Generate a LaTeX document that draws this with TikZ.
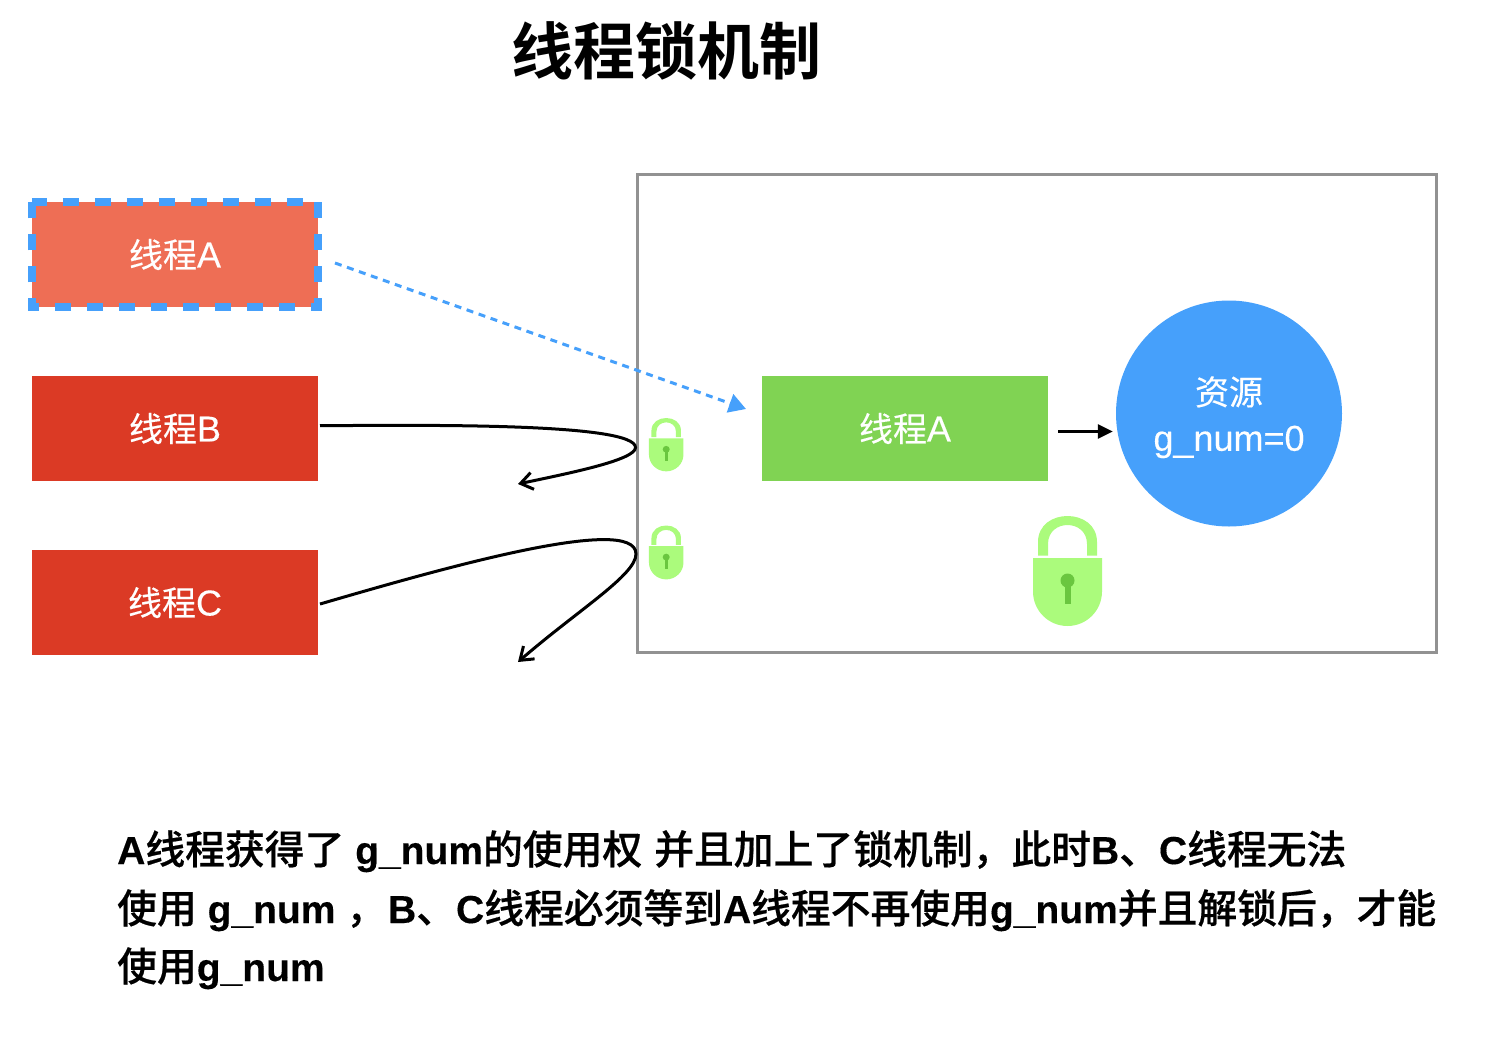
\documentclass[tikz,border=0pt]{standalone}
\usepackage{fontspec}
\usetikzlibrary{arrows.meta}
\setmainfont{Liberation Sans}
\newfontfamily\zhfont[FakeBold=0.3]{Noto Sans CJK SC}
\newfontfamily\zhbold{Noto Sans CJK SC Bold}
\newfontfamily\zhmed[FakeBold=0.5]{Noto Sans CJK SC Medium}
\newfontfamily\latbold[FakeBold=0.25]{Liberation Sans Bold}
\newfontfamily\latreg[FakeBold=0.2]{Liberation Sans}
\newcommand{\zh}[1]{{\fontsize{34}{40}\selectfont\zhfont #1}}
\newcommand{\zb}[1]{{\fontsize{39.8}{46}\selectfont\zhmed #1}}
\newcommand{\zt}[1]{{\zhbold #1}}
\definecolor{redbox}{HTML}{DB3A25}
\definecolor{redsoft}{HTML}{EE6E55}
\definecolor{greenbox}{HTML}{80D353}
\definecolor{bluemain}{HTML}{46A0FB}
\definecolor{framegray}{HTML}{929292}
\definecolor{lockbody}{HTML}{ABFB7C}
\definecolor{lockhole}{HTML}{6AC63F}
\tikzset{
  tbox/.style={minimum width=286pt,minimum height=105pt,inner sep=0pt,text=white,font=\fontsize{36}{40}\selectfont\latreg},
  bline/.style={anchor=base west,inner sep=0pt,font=\fontsize{39}{46}\selectfont\latbold},
  curvearrow/.style={line width=3pt,-{Straight Barb[length=12pt,width=17pt,line width=3pt]}},
  lockpic/.pic={
    \fill[lockbody] (-29.5,39.5) -- (-29.5,26) .. controls (-29.5,-8.67) and (29.5,-8.67) .. (29.5,26) -- (29.5,39.5) -- (19.5,39.5) -- (19.5,28) .. controls (19.5,2.67) and (-19.5,2.67) .. (-19.5,28) -- (-19.5,39.5) -- cycle;
    \fill[lockbody] (-34.5,42) -- (34.5,42) -- (34.5,75.5) arc[start angle=0,end angle=180,radius=34.5] -- cycle;
    \fill[lockhole] (0,64.5) circle[radius=7];
    \fill[lockhole] (-3,66) rectangle (3,88);
  }
}
\begin{document}
\begin{tikzpicture}[x=1pt,y=-1pt]
\useasboundingbox (0,0) rectangle (1496,1036);
\node[anchor=base,inner sep=0pt,font=\fontsize{62}{70}\selectfont] (title) at (666.5,74) {\zt{线程锁机制}};
\node[draw=framegray,line width=3pt,minimum width=799pt,minimum height=478pt,inner sep=0pt] (frame) at (1036.7,413.2) {};
\node[tbox,fill=redsoft] (ta) at (175,254.5) {\zh{线程}A};
\draw[bluemain,line width=8pt,dash pattern=on 16pt off 16pt,dash phase=1pt] (ta.north west) -- (ta.north east) -- (ta.south east) -- (ta.south west) -- cycle;
\node[tbox,fill=redbox] (tb) at (175,428.5) {\zh{线程}B};
\node[tbox,fill=redbox] (tc) at (175,602.5) {\zh{线程}C};
\node[tbox,fill=greenbox] (tg) at (905,428.5) {\zh{线程}A};
\node[circle,fill=bluemain,minimum size=226pt,inner sep=0pt,text=white,align=center,font=\fontsize{36}{46}\selectfont\latreg] (res) at (1229,413.5) {\rule{0pt}{36pt}\zh{资源}\\g\_num=0};
\coordinate (as) at (335,263);
\coordinate (ae) at (746,409);
\draw[bluemain,line width=3pt,dash pattern=on 7pt off 5.7pt,-{Triangle[length=17pt,width=19pt]}] (as) -- (ae);
\coordinate (bs) at (320,425.7);
\coordinate (bm) at (635.5,447.5);
\coordinate (be) at (518,484);
\draw[curvearrow] (bs) .. controls (430,425) and (635.5,423) .. (bm) .. controls (635.5,460) and (570,473) .. (be);
\coordinate (cs) at (320,604);
\coordinate (cm) at (636,554);
\coordinate (ce) at (518,662);
\draw[curvearrow] (cs) .. controls (430,572) and (636,512) .. (cm) .. controls (636,575) and (578,610) .. (ce);
\coordinate (gs) at (1058,431.5);
\draw[line width=3pt,shorten >=3pt,-{Triangle[length=15pt,width=14pt]}] (gs) -- (res.west |- gs);
\pic[xscale=0.5,yscale=0.485] at (666.2,418) {lockpic};
\pic[xscale=0.5,yscale=0.49] at (666.2,525.5) {lockpic};
\pic at (1067.5,516) {lockpic};
\node[bline] (l1) at (117,864) {A\zb{线程获得了} g\_num\zb{的使用权}\hspace{12pt}\zb{并且加上了锁机制，}\hspace{-1pt}\zb{此时}B\zb{、}C\zb{线程无法}};
\node[bline] (l2) at (117,923) {\zb{使用} g\_num \zb{，}\hspace{2pt}B\zb{、}C\zb{线程必须等到}A\zb{线程不再使用}g\_num\zb{并且解锁后，才能}};
\node[bline] (l3) at (117,981) {\zb{使用}g\_num};
\end{tikzpicture}
\end{document}
